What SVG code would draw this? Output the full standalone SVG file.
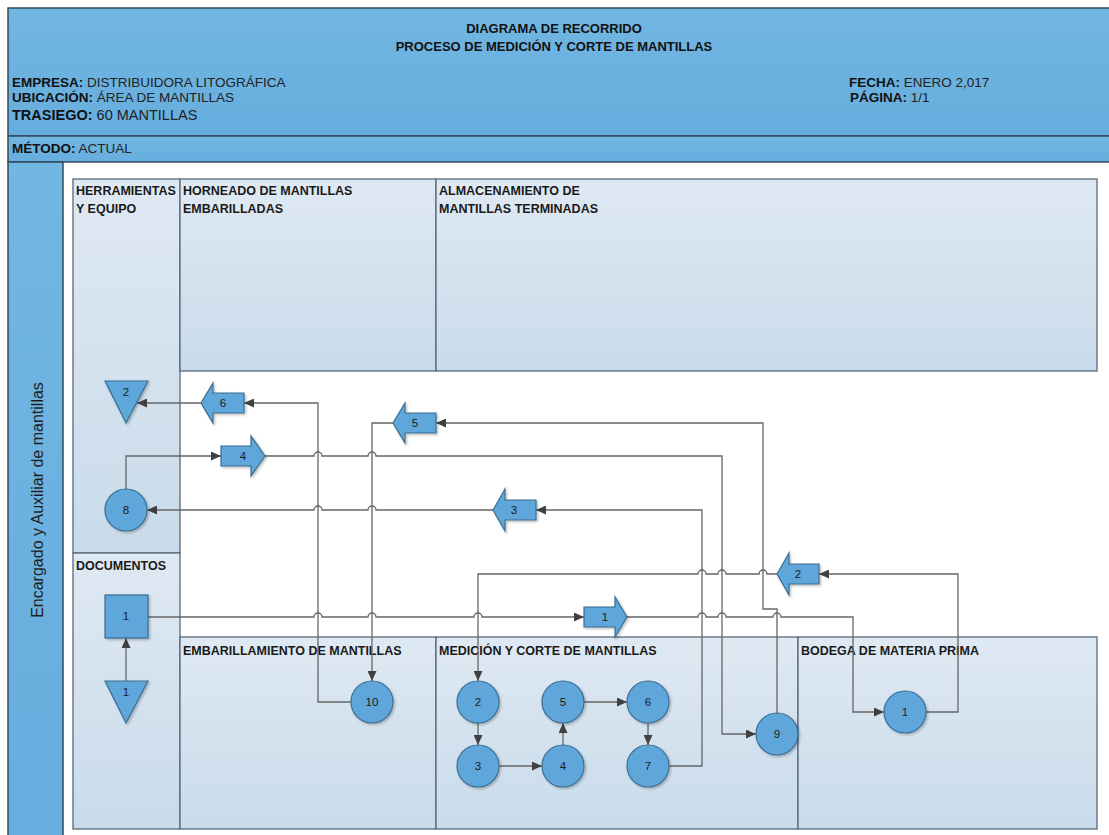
<svg xmlns="http://www.w3.org/2000/svg" width="1109" height="835" viewBox="0 0 1109 835">
  <defs>
    <linearGradient id="laneFill" x1="0" y1="0" x2="0" y2="1">
      <stop offset="0" stop-color="#DFE9F3"/>
      <stop offset="1" stop-color="#C9DBEA"/>
    </linearGradient>
    <linearGradient id="bandFill" x1="0" y1="0" x2="0" y2="1">
      <stop offset="0" stop-color="#72B6E2"/>
      <stop offset="1" stop-color="#66AEDE"/>
    </linearGradient>
    <filter id="shadow" x="-10%" y="-10%" width="130%" height="130%">
      <feDropShadow dx="1.5" dy="1.5" stdDeviation="1.2" flood-color="#000" flood-opacity="0.25"/>
    </filter>
    <marker id="arrow" markerUnits="userSpaceOnUse" markerWidth="10" markerHeight="9" refX="10" refY="4.5" orient="auto">
      <path d="M0,0 L10,4.5 L0,9 z" fill="#404040"/>
    </marker>
    <style>
      .band { fill: url(#bandFill); stroke: #34495C; stroke-width: 1.5; }
      .lane { fill: url(#laneFill); stroke: #56697A; stroke-width: 1.3; }
      .shape { fill: #5EA6DB; stroke: #3A6D91; stroke-width: 1.2; filter: url(#shadow); }
      .num { font-family: "Liberation Sans", Arial, sans-serif; font-size: 11.5px; fill: #1c1c1c; text-anchor: middle; dominant-baseline: central; }
      .head { font-family: "Liberation Sans", Arial, sans-serif; font-size: 13.5px; fill: #222; }
      .head.big { font-size: 14.5px; }
      .head.side { font-size: 16px; text-anchor: middle; fill: #1e1e1e; }
      .head tspan.b { font-weight: bold; fill: #111; }
      .title { font-family: "Liberation Sans", Arial, sans-serif; font-size: 13px; font-weight: bold; fill: #111; text-anchor: middle; }
      .lbl { font-family: "Liberation Sans", Arial, sans-serif; font-size: 12.5px; font-weight: bold; fill: #1a1a1a; }
      .conn path { fill: none; stroke: #666; stroke-width: 1.3; }
    </style>
  </defs>

  <rect x="0" y="0" width="1109" height="835" fill="#fff"/>

  <!-- header bands -->
  <g id="header">
    <rect class="band" x="8" y="8" width="1110" height="128"/>
    <rect class="band" x="8" y="136" width="1110" height="26"/>
    <rect class="band" x="8" y="162" width="55" height="680"/>
    <text class="title" x="554" y="33">DIAGRAMA DE RECORRIDO</text>
    <text class="title" x="554" y="51">PROCESO DE MEDICIÓN Y CORTE DE MANTILLAS</text>
    <text class="head" x="12" y="87"><tspan class="b">EMPRESA:</tspan> DISTRIBUIDORA LITOGRÁFICA</text>
    <text class="head" x="12" y="102"><tspan class="b">UBICACIÓN:</tspan> ÁREA DE MANTILLAS</text>
    <text class="head big" x="12" y="120"><tspan class="b">TRASIEGO:</tspan> 60 MANTILLAS</text>
    <text class="head" x="849" y="87"><tspan class="b">FECHA:</tspan> ENERO 2,017</text>
    <text class="head" x="850" y="102"><tspan class="b">PÁGINA:</tspan> 1/1</text>
    <text class="head" x="12" y="153"><tspan class="b">MÉTODO:</tspan> ACTUAL</text>
    <text class="head side" transform="translate(43,500) rotate(-90)">Encargado y Auxiliar de mantillas</text>
  </g>

  <!-- work areas -->
  <g id="lanes">
    <g id="lane-herramientas">
      <rect class="lane" x="73" y="179" width="107" height="374"/>
      <text class="lbl" x="76" y="195">HERRAMIENTAS</text>
      <text class="lbl" x="76" y="213">Y EQUIPO</text>
    </g>
    <g id="lane-horneado">
      <rect class="lane" x="180" y="179" width="256" height="192"/>
      <text class="lbl" x="183" y="195">HORNEADO DE MANTILLAS</text>
      <text class="lbl" x="183" y="213">EMBARILLADAS</text>
    </g>
    <g id="lane-almacenamiento">
      <rect class="lane" x="436" y="179" width="661" height="192"/>
      <text class="lbl" x="439" y="195">ALMACENAMIENTO DE</text>
      <text class="lbl" x="439" y="213">MANTILLAS TERMINADAS</text>
    </g>
    <g id="lane-documentos">
      <rect class="lane" x="73" y="553" width="107" height="276"/>
      <text class="lbl" x="76" y="570">DOCUMENTOS</text>
    </g>
    <g id="lane-embarillamiento">
      <rect class="lane" x="180" y="637" width="256" height="192"/>
      <text class="lbl" x="183" y="655">EMBARILLAMIENTO DE MANTILLAS</text>
    </g>
    <g id="lane-medicion">
      <rect class="lane" x="436" y="637" width="362" height="192"/>
      <text class="lbl" x="439" y="655">MEDICIÓN Y CORTE DE MANTILLAS</text>
    </g>
    <g id="lane-bodega">
      <rect class="lane" x="798" y="637" width="299" height="192"/>
      <text class="lbl" x="801" y="655">BODEGA DE MATERIA PRIMA</text>
    </g>
  </g>

  <!-- connectors (horizontal runs hop over vertical ones) -->
  <g id="connectors" class="conn">
    <!-- 10 -> transport 6 -> storage 2 -->
    <path d="M351,702 H318 V403 H244" marker-end="url(#arrow)"/>
    <path d="M201,403 H137" marker-end="url(#arrow)"/>
    <!-- 9 -> transport 5 -> 10 -->
    <path d="M777,713 V609 H763 V423 H436" marker-end="url(#arrow)"/>
    <path d="M393,423 H372 V681" marker-end="url(#arrow)"/>
    <!-- 8 -> transport 4 -> 9 -->
    <path d="M126,489 V456 H221" marker-end="url(#arrow)"/>
    <path d="M265,456 H314 A4,4 0 0 1 322,456 H368 A4,4 0 0 1 376,456 H722 V734 H756" marker-end="url(#arrow)"/>
    <!-- 7 -> transport 3 -> 8 -->
    <path d="M669,766 H702 V510 H536" marker-end="url(#arrow)"/>
    <path d="M493,510 H376 A4,4 0 0 0 368,510 H322 A4,4 0 0 0 314,510 H147" marker-end="url(#arrow)"/>
    <!-- bodega 1 -> transport 2 -> 2 -->
    <path d="M926,712 H958 V574 H819" marker-end="url(#arrow)"/>
    <path d="M777,574 H767 A4,4 0 0 0 759,574 H726 A4,4 0 0 0 718,574 H706 A4,4 0 0 0 698,574 H478 V681" marker-end="url(#arrow)"/>
    <!-- document 1 -> transport 1 -> bodega 1 -->
    <path d="M148,617 H314 A4,4 0 0 1 322,617 H368 A4,4 0 0 1 376,617 H474 A4,4 0 0 1 482,617 H584" marker-end="url(#arrow)"/>
    <path d="M627,617 H698 A4,4 0 0 1 706,617 H718 A4,4 0 0 1 726,617 H773 A4,4 0 0 1 781,617 H853 V712 H884" marker-end="url(#arrow)"/>
    <!-- archive 1 -> document 1 -->
    <path d="M126,681 V638" marker-end="url(#arrow)"/>
    <!-- measuring and cutting sequence -->
    <path d="M478,723 V745" marker-end="url(#arrow)"/>
    <path d="M499,766 H542" marker-end="url(#arrow)"/>
    <path d="M563,745 V723" marker-end="url(#arrow)"/>
    <path d="M584,702 H627" marker-end="url(#arrow)"/>
    <path d="M648,723 V745" marker-end="url(#arrow)"/>
  </g>

  <!-- nodes -->
  <g id="storage-2">
    <polygon class="shape" points="105,381 148,381 126,423"/>
    <text class="num" x="126" y="392">2</text>
  </g>
  <g id="operation-8">
    <circle class="shape" cx="126" cy="510" r="21"/>
    <text class="num" x="126" y="510">8</text>
  </g>
  <g id="document-1">
    <rect class="shape" x="105" y="595" width="43" height="43"/>
    <text class="num" x="126" y="616">1</text>
  </g>
  <g id="storage-1">
    <polygon class="shape" points="105,681 148,681 126,723"/>
    <text class="num" x="126" y="692">1</text>
  </g>
  <g id="transport-6">
    <polygon class="shape" points="201,403 213,383 213,393 244,393 244,413 213,413 213,423"/>
    <text class="num" x="223" y="403">6</text>
  </g>
  <g id="transport-4">
    <polygon class="shape" points="221,446 251,446 251,436 265,456 251,476 251,466 221,466"/>
    <text class="num" x="243" y="456">4</text>
  </g>
  <g id="transport-5">
    <polygon class="shape" points="393,423 405,403 405,413 436,413 436,433 405,433 405,443"/>
    <text class="num" x="415" y="423">5</text>
  </g>
  <g id="transport-3">
    <polygon class="shape" points="493,510 505,489 505,500 536,500 536,520 505,520 505,531"/>
    <text class="num" x="514" y="510">3</text>
  </g>
  <g id="transport-2">
    <polygon class="shape" points="777,574 789,553 789,564 819,564 819,584 789,584 789,595"/>
    <text class="num" x="798" y="574">2</text>
  </g>
  <g id="transport-1">
    <polygon class="shape" points="584,607 615,607 615,597 627,617 615,637 615,627 584,627"/>
    <text class="num" x="605" y="617">1</text>
  </g>
  <g id="operation-10">
    <circle class="shape" cx="372" cy="702" r="21"/>
    <text class="num" x="372" y="702">10</text>
  </g>
  <g id="operation-2">
    <circle class="shape" cx="478" cy="702" r="21"/>
    <text class="num" x="478" y="702">2</text>
  </g>
  <g id="operation-3">
    <circle class="shape" cx="478" cy="766" r="21"/>
    <text class="num" x="478" y="766">3</text>
  </g>
  <g id="operation-4">
    <circle class="shape" cx="563" cy="766" r="21"/>
    <text class="num" x="563" y="766">4</text>
  </g>
  <g id="operation-5">
    <circle class="shape" cx="563" cy="702" r="21"/>
    <text class="num" x="563" y="702">5</text>
  </g>
  <g id="operation-6">
    <circle class="shape" cx="648" cy="702" r="21"/>
    <text class="num" x="648" y="702">6</text>
  </g>
  <g id="operation-7">
    <circle class="shape" cx="648" cy="766" r="21"/>
    <text class="num" x="648" y="766">7</text>
  </g>
  <g id="operation-9">
    <circle class="shape" cx="777" cy="734" r="21"/>
    <text class="num" x="777" y="734">9</text>
  </g>
  <g id="operation-bodega-1">
    <circle class="shape" cx="905" cy="712" r="21"/>
    <text class="num" x="905" y="712">1</text>
  </g>
</svg>
